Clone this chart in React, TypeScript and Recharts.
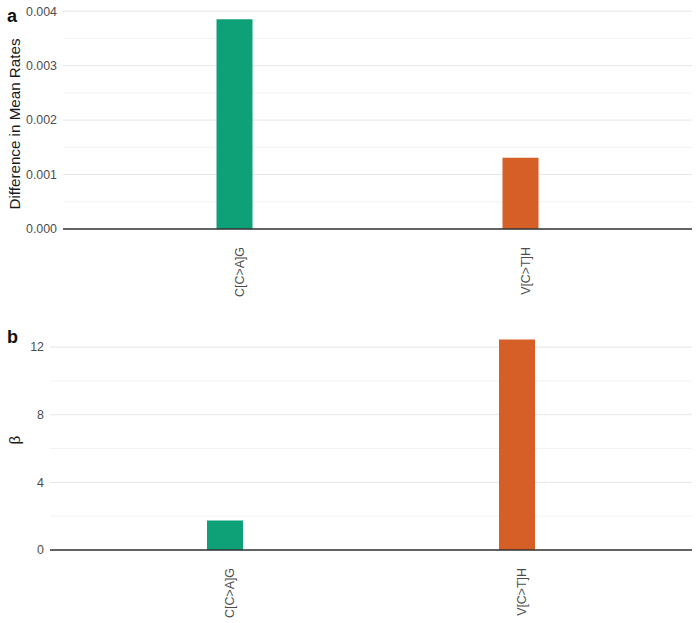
import { BarChart, Bar, Cell, XAxis, YAxis, CartesianGrid } from "recharts";

const categories = ["C[C>A]G", "V[C>T]H"];
const meanRateDiff = [0.00385, 0.00131];
const betaValues = [1.75, 12.45];
const barColors = ["#0ea177", "#d65f27"];

const rateMajorTicks = [0, 0.001, 0.002, 0.003, 0.004];
const rateMinorTicks = [0.0005, 0.0015, 0.0025, 0.0035];
const betaMajorTicks = [0, 4, 8, 12];
const betaMinorTicks = [2, 6, 10];

const FONT = "'Liberation Sans', Arial, Helvetica, sans-serif";
const TICK_COLOR = "#4d4d4d";

const rateData = categories.map((name, i) => ({ name, value: meanRateDiff[i] }));
const betaData = categories.map((name, i) => ({ name, value: betaValues[i] }));

// rotated category labels, read bottom-to-top
const RotatedTick = ({ x, y, payload }: any) => (
  <text x={x} y={y} dy={9} transform={`rotate(-90 ${x} ${y})`} textAnchor="end"
    fontSize={12.4} fill={TICK_COLOR} fontFamily={FONT}>
    {payload.value}
  </text>
);

function Panel({ data, height, top, yWidth, padding, domain, major, minor, fmt, marginTop, marginBottom }: any) {
  return (
    <div style={{ position: "absolute", left: 0, top }}>
      <BarChart width={700} height={height} data={data}
        margin={{ top: marginTop, right: 8, bottom: marginBottom, left: 0 }}>
        <CartesianGrid vertical={false} horizontalValues={minor} stroke="#f2f2f2" strokeWidth={1} />
        <CartesianGrid vertical={false} horizontalValues={major} stroke="#e6e6e6" strokeWidth={1} />
        <XAxis dataKey="name" interval={0} height={70} padding={{ left: padding, right: padding }}
          axisLine={{ stroke: "#333333", strokeWidth: 1.3 }} tickLine={false}
          tickSize={6} tickMargin={12} tick={<RotatedTick />} />
        <YAxis width={yWidth} domain={domain} ticks={[...major]} allowDataOverflow
          axisLine={false} tickLine={false} tickSize={6} tickMargin={0}
          tickFormatter={fmt}
          tick={{ fill: TICK_COLOR, fontSize: 12.4, fontFamily: FONT }} />
        <Bar dataKey="value" barSize={36} isAnimationActive={false}>
          {data.map((_: any, i: number) => <Cell key={i} fill={barColors[i]} />)}
        </Bar>
      </BarChart>
    </div>
  );
}

export default function App() {
  return (
    <div style={{ position: "absolute", left: 0, top: 0, width: 700, height: 623, background: "#fff", fontFamily: FONT }}>
      <Panel data={rateData} height={310} top={0} yWidth={63} padding={28.5}
        domain={[0, 0.00404]} major={rateMajorTicks} minor={rateMinorTicks}
        fmt={(v: number) => v.toFixed(3)} marginTop={9} marginBottom={11} />
      <Panel data={betaData} height={313} top={310} yWidth={50} padding={29}
        domain={[0, 13.07]} major={betaMajorTicks} minor={betaMinorTicks}
        fmt={(v: number) => String(v)} marginTop={19} marginBottom={3} />
      <svg width={700} height={623} style={{ position: "absolute", left: 0, top: 0, pointerEvents: "none" }}>
        <text x={7} y={22} fontSize={18} fontWeight="bold" fill="#111" fontFamily={FONT}>a</text>
        <text x={7} y={343} fontSize={18} fontWeight="bold" fill="#111" fontFamily={FONT}>b</text>
        <text x={19.5} y={124} transform="rotate(-90 19.5 124)" textAnchor="middle" fontSize={15.2}
          fill="#1a1a1a" fontFamily={FONT}>Difference in Mean Rates</text>
        <text x={20} y={440} transform="rotate(-90 20 440)" textAnchor="middle" fontSize={15.2}
          fill="#1a1a1a" fontFamily={FONT}>β</text>
      </svg>
    </div>
  );
}
